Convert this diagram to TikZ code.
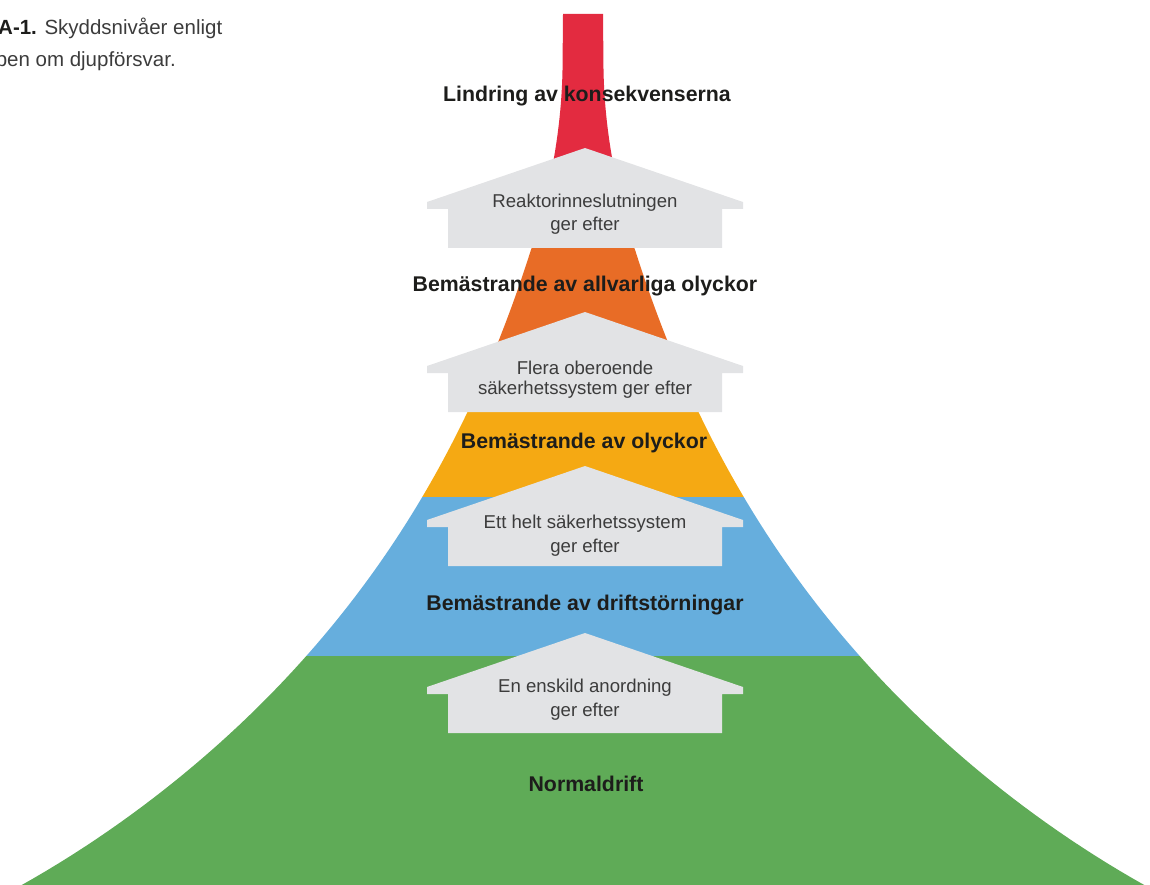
\documentclass[tikz,border=0pt]{standalone}
\usepackage{fontspec}
\setmainfont{Liberation Sans}
\usepackage{tikz}
\definecolor{levelred}{HTML}{E32B40}
\definecolor{levelorange}{HTML}{E86C26}
\definecolor{levelyellow}{HTML}{F5A913}
\definecolor{levelblue}{HTML}{66AEDD}
\definecolor{levelgreen}{HTML}{5FAB57}
\definecolor{arrowgray}{HTML}{E2E3E5}
\definecolor{labelblack}{HTML}{1D1D1B}
\definecolor{textgray}{HTML}{3C3C3C}

\begin{document}
\begin{tikzpicture}[
    x=1pt, y=-1pt,
    declare function={flare(\t)=-73+155.9*exp((\t-337)/395)+10*exp((\t-885)/50);},
    levellabel/.style={font=\fontsize{21.3}{25}\selectfont\bfseries, text=labelblack,
                       inner sep=0pt, anchor=base},
    arrowtext/.style={font=\fontsize{18.6}{23.5}\selectfont, text=textgray,
                      align=center, inner sep=0pt, anchor=base},
    captext/.style={font=\fontsize{20.5}{25}\selectfont, text=textgray, inner sep=0pt},
    houseup/.pic={
        \fill[arrowgray] (0,0) -- (-158,54) -- (-158,61) -- (-137,61) -- (-137,100)
            -- (137,100) -- (137,61) -- (158,61) -- (158,54) -- cycle;
    }
]
\useasboundingbox (0,0) rectangle (1150,885);

% caption, cut at the left edge
\node[captext, anchor=base west] (cap1) at (-2,35) {\textcolor{labelblack}{\bfseries A-1.} Skyddsnivåer enligt};
\node[captext, anchor=base east] (cap2) at (176,67) {pen om djupförsvar.};

% the tower with its five levels (flared sides)
\begin{scope}
    \clip (563,14) -- (562.5,70) .. controls (561,150) and (542,215) .. (531,250)
        -- plot[domain=250:887, samples=80] ({583-flare(\x)},\x)
        -- plot[domain=887:250, samples=80] ({583+flare(\x)},\x)
        -- (635,250) .. controls (624,215) and (605,150) .. (603.5,70) -- (603,14) -- cycle;
    \fill[levelred]    (0,0)   rectangle (1150,240);
    \fill[levelorange] (0,240) rectangle (1150,400);
    \fill[levelyellow] (0,400) rectangle (1150,497);
    \fill[levelblue]   (0,497) rectangle (1150,656);
    \fill[levelgreen]  (0,656) rectangle (1150,890);
\end{scope}

% arrows between the levels
\pic at (585,148) {houseup};
\pic at (585,312) {houseup};
\pic at (585,466) {houseup};
\pic at (585,633) {houseup};

\node[arrowtext] (fail4) at (585,231) {Reaktorinneslutningen\\ger efter};
\node[arrowtext, font=\fontsize{18.6}{20}\selectfont] (fail3) at (585,394) {Flera oberoende\\säkerhetssystem ger efter};
\node[arrowtext] (fail2) at (585,552) {Ett helt säkerhetssystem\\ger efter};
\node[arrowtext] (fail1) at (585,716) {En enskild anordning\\ger efter};

% level names
\node[levellabel] (lvl5) at (587,102) {Lindring av konsekvenserna};
\node[levellabel] (lvl4) at (585,291) {Bemästrande av allvarliga olyckor};
\node[levellabel] (lvl3) at (584,448) {Bemästrande av olyckor};
\node[levellabel] (lvl2) at (585,610) {Bemästrande av driftstörningar};
\node[levellabel] (lvl1) at (586,791) {Normaldrift};

\end{tikzpicture}
\end{document}
